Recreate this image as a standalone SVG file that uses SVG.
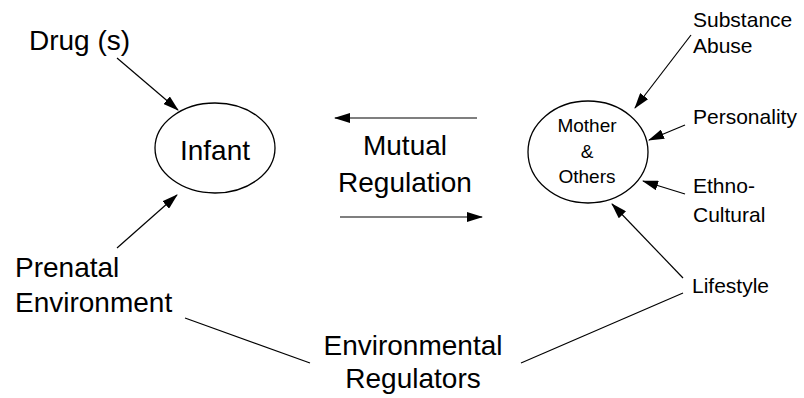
<svg xmlns="http://www.w3.org/2000/svg" width="804" height="398" viewBox="0 0 804 398">
<style>
.big{font-family:"Liberation Sans",Arial,sans-serif;font-size:28px;fill:#000}
.sm{font-family:"Liberation Sans",Arial,sans-serif;font-size:21px;fill:#000}
.mo{font-family:"Liberation Sans",Arial,sans-serif;font-size:19px;fill:#000}
.node{fill:#fff;stroke:#000;stroke-width:1.3}
.ln{stroke:#000;stroke-width:1.2;fill:none}
</style>
<defs>
<marker id="ah" markerUnits="userSpaceOnUse" markerWidth="16" markerHeight="10" viewBox="0 0 16 10" refX="15" refY="5" orient="auto">
<path d="M0,0 L16,5 L0,10 Z" fill="#000"/>
</marker>
</defs>
<rect width="804" height="398" fill="#fff"/>
<g id="infant">
<ellipse class="node" cx="215" cy="148" rx="60" ry="45"/>
<text class="big" x="215" y="160" text-anchor="middle">Infant</text>
</g>
<g id="mother">
<ellipse class="node" cx="588" cy="152" rx="60" ry="51"/>
<text class="mo" text-anchor="middle"><tspan x="587" y="132">Mother</tspan><tspan x="587" y="158">&amp;</tspan><tspan x="587" y="183">Others</tspan></text>
</g>
<g id="drugs"><text class="big" x="29" y="50">Drug (s)</text></g>
<g id="prenatal"><text class="big"><tspan x="15" y="277">Prenatal</tspan><tspan x="15" y="312">Environment</tspan></text></g>
<g id="mutual"><text class="big" text-anchor="middle"><tspan x="405" y="155">Mutual</tspan><tspan x="405" y="192">Regulation</tspan></text></g>
<g id="envreg"><text class="big" text-anchor="middle"><tspan x="413" y="355">Environmental</tspan><tspan x="413" y="388">Regulators</tspan></text></g>
<g id="substance"><text class="sm"><tspan x="693" y="27">Substance</tspan><tspan x="693" y="53">Abuse</tspan></text></g>
<g id="personality"><text class="sm" x="693" y="124">Personality</text></g>
<g id="ethno"><text class="sm"><tspan x="693" y="193">Ethno-</tspan><tspan x="693" y="222">Cultural</tspan></text></g>
<g id="lifestyle"><text class="sm" x="692" y="293">Lifestyle</text></g>
<g id="connectors">
<line class="ln" x1="117" y1="58" x2="178" y2="110" marker-end="url(#ah)"/>
<line class="ln" x1="117" y1="248" x2="177" y2="195" marker-end="url(#ah)"/>
<line class="ln" x1="477" y1="118" x2="335" y2="118" marker-end="url(#ah)"/>
<line class="ln" x1="340" y1="217" x2="482" y2="217" marker-end="url(#ah)"/>
<line class="ln" x1="691" y1="35" x2="635" y2="108" marker-end="url(#ah)"/>
<line class="ln" x1="685" y1="125" x2="649" y2="140" marker-end="url(#ah)"/>
<line class="ln" x1="685" y1="194" x2="643" y2="181" marker-end="url(#ah)"/>
<line class="ln" x1="683" y1="278" x2="612" y2="204" marker-end="url(#ah)"/>
<line class="ln" x1="185" y1="318" x2="310" y2="363"/>
<line class="ln" x1="683" y1="293" x2="521" y2="363"/>
</g>
</svg>
